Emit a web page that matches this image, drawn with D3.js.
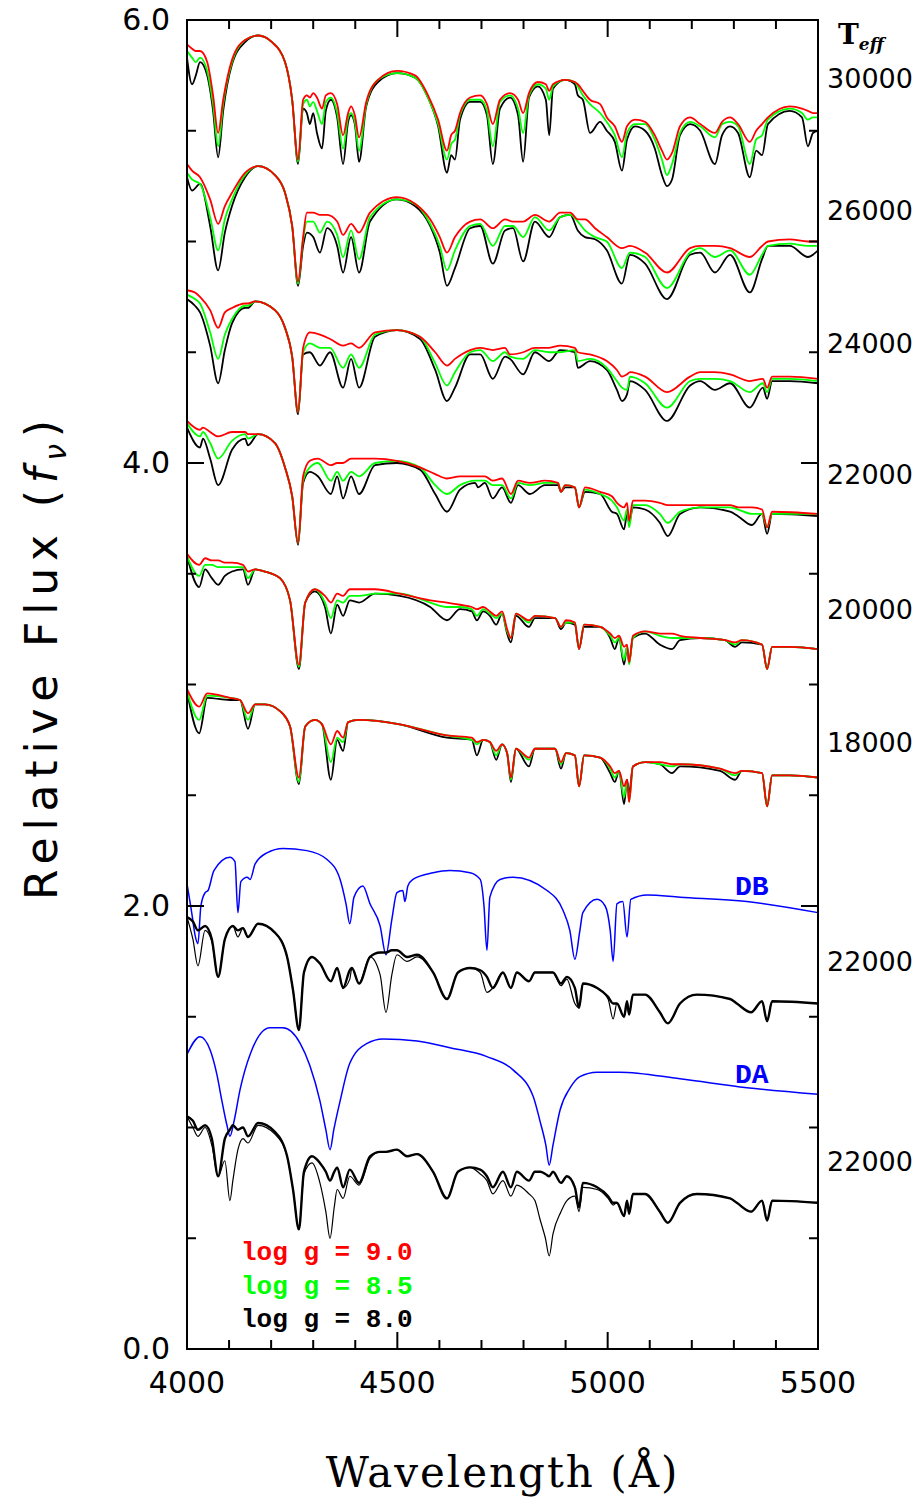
<!DOCTYPE html>
<html>
<head>
<meta charset="utf-8">
<script src="https://cdn.jsdelivr.net/npm/d3@7"></script>
<style>
  body { margin: 0; background: #fff; }
</style>
</head>
<body>
<svg id="chart" width="922" height="1502"></svg>
<script>
// ---- data (wavelength in A, relative flux incl. offsets) ----

// Teff = 30000
const wlT30 = [4000,4012,4021,4031,4048,4062,4074,4086,4107,4138,4169,4202,4233,4250,4264,4276,4285,4292,4300,4309,4321,4330,4342,4357,4371,4383,4390,4399,4409,4426,4454,4499,4542,4573,4597,4618,4628,4637,4649,4673,4697,4713,4727,4744,4768,4787,4799,4813,4834,4853,4861,4870,4899,4922,4929,4941,4958,4982,4998,5017,5034,5046,5065,5089,5112,5129,5141,5153,5172,5196,5220,5255,5272,5291,5310,5338,5353,5367,5381,5433,5462,5476,5488,5500]
const t30g90 = [5.89,5.87,5.86,5.86,5.81,5.66,5.49,5.64,5.82,5.91,5.93,5.90,5.81,5.64,5.37,5.64,5.66,5.65,5.67,5.65,5.60,5.66,5.67,5.62,5.48,5.58,5.61,5.57,5.47,5.63,5.73,5.77,5.75,5.66,5.55,5.41,5.48,5.50,5.58,5.65,5.66,5.62,5.53,5.64,5.67,5.64,5.58,5.67,5.72,5.71,5.68,5.71,5.73,5.72,5.71,5.68,5.64,5.62,5.56,5.52,5.45,5.52,5.55,5.54,5.48,5.41,5.37,5.40,5.52,5.56,5.53,5.49,5.54,5.56,5.53,5.45,5.50,5.53,5.56,5.61,5.60,5.59,5.58,5.58]
const t30g85 = [5.86,5.83,5.81,5.83,5.77,5.62,5.43,5.62,5.81,5.91,5.93,5.90,5.81,5.64,5.36,5.62,5.64,5.61,5.63,5.59,5.53,5.63,5.65,5.58,5.42,5.56,5.58,5.54,5.41,5.62,5.73,5.76,5.74,5.65,5.53,5.37,5.44,5.46,5.57,5.64,5.64,5.59,5.43,5.63,5.66,5.60,5.49,5.66,5.71,5.69,5.64,5.70,5.73,5.72,5.70,5.66,5.62,5.58,5.54,5.48,5.38,5.49,5.53,5.53,5.46,5.37,5.30,5.35,5.49,5.54,5.52,5.47,5.53,5.54,5.52,5.35,5.46,5.48,5.55,5.60,5.58,5.55,5.56,5.56]
const t30g80 = [5.83,5.71,5.75,5.81,5.75,5.59,5.38,5.59,5.80,5.90,5.93,5.90,5.81,5.64,5.35,5.60,5.58,5.53,5.58,5.49,5.42,5.59,5.64,5.56,5.35,5.54,5.57,5.53,5.36,5.61,5.72,5.76,5.74,5.65,5.52,5.31,5.39,5.37,5.55,5.63,5.63,5.57,5.35,5.60,5.65,5.57,5.36,5.65,5.70,5.64,5.48,5.69,5.73,5.71,5.66,5.64,5.49,5.54,5.50,5.45,5.32,5.46,5.52,5.50,5.42,5.30,5.25,5.28,5.48,5.53,5.50,5.35,5.48,5.52,5.49,5.29,5.41,5.39,5.53,5.59,5.56,5.43,5.49,5.50]

// Teff = 26000
const wlT26 = [4000,4012,4031,4055,4074,4090,4107,4138,4169,4209,4233,4250,4264,4276,4285,4300,4316,4333,4357,4371,4390,4409,4435,4499,4542,4578,4601,4618,4637,4673,4697,4727,4756,4775,4799,4827,4861,4887,4911,4929,4946,4970,4998,5034,5053,5089,5141,5196,5220,5255,5291,5338,5367,5381,5433,5476,5500]
const t26g90 = [5.35,5.32,5.29,5.19,5.08,5.16,5.22,5.31,5.34,5.30,5.22,5.07,4.82,5.02,5.13,5.13,5.12,5.12,5.09,5.03,5.08,5.04,5.13,5.20,5.17,5.10,5.02,4.95,5.02,5.09,5.10,5.06,5.10,5.09,5.09,5.12,5.09,5.13,5.13,5.10,5.10,5.06,5.02,4.97,4.98,4.95,4.86,4.97,4.98,4.98,4.97,4.93,4.98,5.00,5.01,5.00,5.00]
const t26g85 = [5.31,5.28,5.26,5.11,4.96,5.10,5.19,5.30,5.34,5.30,5.22,5.07,4.81,5.01,5.09,5.09,5.04,5.09,5.03,4.93,5.05,4.92,5.11,5.19,5.17,5.08,4.98,4.87,4.96,5.07,5.08,4.98,5.07,5.07,5.02,5.11,5.05,5.11,5.12,5.09,5.05,5.02,5.00,4.88,4.95,4.93,4.79,4.95,4.97,4.93,4.96,4.85,4.94,4.98,4.99,4.98,4.98]
const t26g80 = [5.29,5.23,5.26,5.07,4.87,5.04,5.16,5.29,5.34,5.30,5.22,5.07,4.80,4.98,5.04,5.02,4.95,5.06,4.98,4.86,5.02,4.86,5.09,5.19,5.16,5.07,4.95,4.80,4.88,5.06,5.07,4.90,5.05,5.06,4.91,5.09,5.02,5.11,5.12,5.05,5.02,5.01,4.96,4.81,4.94,4.90,4.74,4.94,4.95,4.86,4.94,4.77,4.92,4.98,4.98,4.93,4.96]

// Teff = 24000
const wlT24 = [4000,4019,4031,4055,4074,4090,4107,4138,4145,4162,4209,4233,4250,4264,4276,4292,4316,4340,4371,4390,4409,4447,4499,4554,4590,4618,4637,4673,4697,4727,4756,4768,4799,4827,4861,4887,4922,4929,4958,4998,5022,5034,5046,5053,5089,5141,5196,5220,5255,5291,5338,5369,5379,5391,5433,5500]
const t24g90 = [4.78,4.77,4.75,4.69,4.61,4.68,4.70,4.72,4.72,4.73,4.69,4.61,4.48,4.23,4.52,4.59,4.58,4.56,4.53,4.54,4.52,4.59,4.60,4.57,4.50,4.44,4.47,4.51,4.52,4.51,4.52,4.49,4.50,4.52,4.52,4.53,4.52,4.50,4.49,4.46,4.42,4.39,4.40,4.41,4.39,4.32,4.39,4.41,4.41,4.40,4.37,4.38,4.34,4.39,4.39,4.38]
const t24g85 = [4.76,4.74,4.72,4.59,4.47,4.58,4.65,4.71,4.71,4.73,4.69,4.61,4.48,4.23,4.50,4.54,4.52,4.52,4.43,4.49,4.43,4.58,4.60,4.57,4.45,4.35,4.41,4.50,4.51,4.46,4.50,4.48,4.47,4.51,4.50,4.50,4.51,4.46,4.47,4.43,4.37,4.34,4.33,4.39,4.36,4.25,4.37,4.38,4.38,4.37,4.32,4.36,4.32,4.38,4.38,4.37]
const t24g80 = [4.74,4.71,4.68,4.53,4.36,4.51,4.63,4.70,4.70,4.73,4.69,4.61,4.48,4.22,4.49,4.50,4.44,4.50,4.34,4.47,4.34,4.57,4.60,4.56,4.42,4.28,4.34,4.49,4.49,4.38,4.48,4.47,4.40,4.50,4.46,4.51,4.50,4.43,4.46,4.42,4.33,4.28,4.31,4.37,4.33,4.19,4.35,4.37,4.33,4.36,4.25,4.34,4.29,4.37,4.37,4.36]

// Teff = 22000
const wlT22 = [4000,4031,4038,4055,4074,4107,4138,4145,4169,4209,4233,4250,4264,4276,4292,4311,4342,4357,4371,4390,4409,4447,4499,4554,4590,4618,4649,4685,4692,4708,4727,4749,4770,4787,4815,4851,4882,4889,4899,4922,4932,4946,4982,5010,5022,5039,5046,5051,5060,5089,5124,5143,5172,5220,5291,5310,5343,5367,5379,5391,5500]
const t22g90 = [4.19,4.15,4.16,4.14,4.12,4.14,4.14,4.13,4.13,4.09,3.98,3.85,3.64,3.94,4.01,4.02,3.99,4.00,4.00,4.02,4.02,4.02,4.01,3.98,3.95,3.93,3.94,3.94,3.94,3.94,3.92,3.93,3.86,3.92,3.91,3.92,3.91,3.87,3.90,3.89,3.80,3.89,3.87,3.85,3.82,3.80,3.82,3.74,3.83,3.83,3.82,3.81,3.81,3.81,3.81,3.80,3.80,3.79,3.71,3.78,3.77]
const t22g85 = [4.18,4.12,4.14,4.09,4.02,4.10,4.13,4.11,4.13,4.09,3.98,3.85,3.64,3.92,3.98,4.00,3.92,3.96,3.92,3.96,3.94,4.00,4.01,3.98,3.90,3.86,3.90,3.92,3.92,3.92,3.90,3.90,3.84,3.91,3.90,3.91,3.91,3.87,3.90,3.89,3.80,3.88,3.86,3.83,3.80,3.74,3.79,3.71,3.81,3.81,3.77,3.73,3.78,3.80,3.80,3.79,3.77,3.77,3.71,3.77,3.77]
const t22g80 = [4.16,4.07,4.11,4.02,3.90,4.06,4.11,4.08,4.13,4.09,3.98,3.85,3.63,3.91,3.96,3.94,3.86,3.94,3.84,3.94,3.86,3.99,4.00,3.97,3.86,3.78,3.88,3.91,3.89,3.91,3.84,3.89,3.82,3.90,3.86,3.90,3.90,3.87,3.89,3.89,3.80,3.87,3.86,3.78,3.77,3.70,3.77,3.73,3.80,3.79,3.73,3.67,3.77,3.80,3.78,3.76,3.72,3.77,3.68,3.77,3.76]

// Teff = 20000
const wlT20 = [4000,4029,4043,4059,4074,4090,4107,4133,4145,4162,4185,4221,4245,4266,4281,4304,4328,4342,4357,4371,4387,4409,4447,4506,4578,4618,4649,4677,4689,4704,4720,4735,4749,4761,4770,4782,4813,4827,4875,4889,4901,4922,4932,4944,4982,5006,5017,5027,5039,5046,5051,5060,5089,5124,5153,5172,5220,5279,5303,5319,5367,5379,5391,5433,5500]
const t20g90 = [3.59,3.54,3.57,3.56,3.56,3.55,3.55,3.54,3.51,3.52,3.51,3.48,3.38,3.09,3.37,3.43,3.40,3.37,3.41,3.40,3.43,3.43,3.43,3.41,3.38,3.37,3.36,3.35,3.34,3.35,3.33,3.31,3.33,3.25,3.21,3.32,3.29,3.31,3.30,3.26,3.29,3.28,3.16,3.27,3.26,3.23,3.21,3.22,3.17,3.18,3.10,3.22,3.24,3.23,3.23,3.22,3.21,3.20,3.19,3.20,3.18,3.07,3.17,3.17,3.16]
const t20g85 = [3.58,3.49,3.54,3.54,3.53,3.53,3.53,3.53,3.48,3.52,3.51,3.48,3.38,3.08,3.37,3.43,3.37,3.30,3.38,3.37,3.40,3.40,3.41,3.41,3.37,3.35,3.35,3.34,3.31,3.34,3.32,3.30,3.32,3.24,3.21,3.32,3.28,3.31,3.30,3.26,3.28,3.28,3.16,3.27,3.26,3.22,3.19,3.21,3.11,3.17,3.09,3.21,3.24,3.22,3.21,3.21,3.21,3.20,3.18,3.20,3.18,3.07,3.17,3.17,3.16]
const t20g80 = [3.58,3.44,3.52,3.48,3.45,3.49,3.51,3.52,3.45,3.52,3.51,3.48,3.38,3.07,3.37,3.42,3.35,3.23,3.36,3.31,3.38,3.37,3.41,3.40,3.35,3.29,3.34,3.33,3.29,3.33,3.31,3.27,3.32,3.23,3.19,3.31,3.26,3.30,3.30,3.25,3.28,3.27,3.16,3.26,3.26,3.21,3.16,3.21,3.09,3.17,3.10,3.21,3.23,3.18,3.16,3.20,3.21,3.20,3.17,3.19,3.18,3.07,3.17,3.17,3.16]

// Teff = 18000
const wlT18 = [4000,4029,4048,4102,4126,4145,4162,4185,4221,4245,4266,4281,4304,4321,4342,4357,4371,4383,4409,4506,4618,4677,4689,4704,4720,4735,4749,4761,4770,4782,4813,4827,4875,4889,4901,4922,4932,4944,4982,5006,5017,5027,5039,5046,5051,5060,5089,5124,5153,5172,5267,5303,5319,5367,5379,5391,5433,5500]
const t18g90 = [2.98,2.90,2.96,2.94,2.93,2.87,2.91,2.91,2.88,2.81,2.58,2.81,2.84,2.82,2.73,2.79,2.76,2.83,2.84,2.82,2.77,2.76,2.74,2.75,2.74,2.70,2.73,2.69,2.58,2.71,2.67,2.71,2.71,2.65,2.69,2.68,2.54,2.68,2.67,2.63,2.60,2.61,2.54,2.57,2.47,2.63,2.65,2.65,2.64,2.64,2.62,2.60,2.61,2.60,2.45,2.59,2.59,2.58]
const t18g85 = [2.97,2.84,2.95,2.94,2.93,2.84,2.91,2.91,2.88,2.81,2.56,2.81,2.84,2.82,2.65,2.76,2.74,2.83,2.84,2.82,2.77,2.75,2.73,2.75,2.74,2.68,2.73,2.69,2.57,2.71,2.66,2.71,2.71,2.64,2.69,2.68,2.54,2.68,2.67,2.62,2.58,2.61,2.49,2.56,2.47,2.63,2.65,2.64,2.63,2.64,2.62,2.59,2.61,2.60,2.45,2.59,2.59,2.58]
const t18g80 = [2.97,2.78,2.94,2.93,2.93,2.80,2.91,2.91,2.88,2.81,2.55,2.81,2.84,2.82,2.57,2.75,2.70,2.83,2.84,2.82,2.76,2.75,2.68,2.75,2.74,2.66,2.73,2.69,2.56,2.71,2.63,2.71,2.71,2.62,2.69,2.68,2.54,2.68,2.67,2.60,2.56,2.61,2.46,2.57,2.51,2.63,2.65,2.64,2.60,2.63,2.61,2.57,2.61,2.60,2.45,2.59,2.59,2.58]

// DB comparison (blue) and 22000 K models below it
const wlDB = [4000,4012,4019,4026,4033,4043,4050,4064,4102,4114,4121,4128,4143,4150,4162,4190,4228,4285,4333,4364,4378,4387,4397,4418,4435,4459,4473,4487,4499,4513,4518,4525,4537,4585,4625,4673,4697,4706,4713,4720,4744,4775,4856,4894,4910,4922,4934,4941,4975,4994,5006,5013,5022,5036,5046,5055,5094,5172,5331,5500]
const fluxDB = [2.10,1.96,1.87,1.83,2.00,2.06,2.07,2.16,2.22,2.20,1.97,2.11,2.13,2.12,2.19,2.24,2.26,2.25,2.21,2.12,2.01,1.92,2.04,2.09,2.01,1.91,1.78,1.94,2.06,2.07,2.02,2.09,2.12,2.15,2.16,2.15,2.12,2.00,1.80,2.04,2.12,2.13,2.07,1.98,1.89,1.76,1.89,1.97,2.03,2.00,1.89,1.75,2.01,2.02,1.86,2.03,2.05,2.04,2.02,1.97]
const wlDBmod = [4000,4014,4026,4043,4059,4074,4090,4109,4121,4133,4145,4169,4209,4238,4252,4266,4278,4297,4316,4342,4357,4371,4387,4392,4409,4435,4459,4473,4487,4499,4523,4547,4585,4618,4644,4673,4697,4713,4727,4751,4770,4784,4813,4827,4870,4889,4903,4922,4932,4941,4975,5001,5013,5022,5039,5046,5051,5060,5089,5124,5143,5172,5212,5291,5307,5341,5367,5379,5391,5500]
const dbModA = [1.95,1.93,1.89,1.91,1.85,1.68,1.85,1.91,1.89,1.90,1.86,1.92,1.88,1.77,1.62,1.44,1.70,1.77,1.74,1.66,1.72,1.63,1.71,1.72,1.65,1.77,1.79,1.79,1.80,1.80,1.77,1.78,1.70,1.58,1.70,1.72,1.71,1.68,1.63,1.70,1.63,1.70,1.66,1.70,1.70,1.65,1.68,1.63,1.54,1.65,1.63,1.59,1.56,1.56,1.50,1.57,1.51,1.60,1.60,1.52,1.47,1.56,1.60,1.58,1.56,1.52,1.57,1.48,1.57,1.56]
const dbModB = [1.95,1.85,1.73,1.89,1.84,1.68,1.85,1.91,1.86,1.90,1.86,1.92,1.88,1.77,1.62,1.44,1.70,1.77,1.74,1.66,1.72,1.63,1.67,1.72,1.65,1.77,1.69,1.52,1.69,1.78,1.75,1.77,1.70,1.58,1.70,1.72,1.70,1.61,1.63,1.70,1.63,1.70,1.66,1.70,1.70,1.64,1.67,1.56,1.54,1.65,1.63,1.58,1.49,1.56,1.50,1.55,1.51,1.60,1.60,1.52,1.47,1.56,1.60,1.58,1.56,1.52,1.57,1.48,1.57,1.56]

// DA comparison (blue) and 22000 K models below it
const wlDA = [4000,4031,4055,4071,4083,4095,4102,4112,4126,4150,4197,4228,4269,4292,4316,4330,4340,4349,4364,4387,4428,4466,4547,4625,4713,4775,4823,4839,4853,4861,4870,4887,4911,4934,4975,5029,5172,5331,5500]
const fluxDA = [1.33,1.41,1.35,1.24,1.12,1.01,0.96,1.03,1.17,1.33,1.45,1.45,1.38,1.28,1.12,0.99,0.90,0.99,1.12,1.29,1.38,1.40,1.39,1.36,1.32,1.26,1.14,1.03,0.92,0.83,0.92,1.08,1.18,1.23,1.25,1.25,1.22,1.18,1.15]
const wlDAmod = [4000,4014,4026,4043,4059,4074,4090,4102,4109,4121,4133,4145,4169,4209,4238,4252,4266,4278,4297,4316,4330,4340,4350,4357,4371,4387,4409,4435,4459,4473,4499,4523,4547,4585,4618,4644,4673,4697,4713,4727,4751,4770,4784,4813,4827,4840,4852,4861,4870,4889,4903,4922,4932,4941,4975,5001,5013,5022,5039,5046,5051,5060,5089,5124,5143,5172,5212,5291,5307,5341,5367,5379,5391,5500]
const daModA = [1.05,1.03,0.99,1.01,0.95,0.78,0.95,0.99,1.01,0.99,1.00,0.96,1.02,0.98,0.87,0.72,0.54,0.80,0.87,0.84,0.80,0.76,0.80,0.82,0.73,0.81,0.75,0.87,0.89,0.89,0.90,0.87,0.88,0.80,0.68,0.80,0.82,0.81,0.78,0.73,0.80,0.73,0.80,0.76,0.80,0.80,0.79,0.78,0.80,0.75,0.78,0.73,0.64,0.75,0.73,0.69,0.66,0.66,0.60,0.67,0.61,0.70,0.70,0.62,0.57,0.66,0.70,0.68,0.66,0.62,0.67,0.58,0.67,0.66]
const daModB = [1.05,1.00,0.96,1.00,0.92,0.78,0.85,0.67,0.76,0.90,0.95,0.93,1.01,0.97,0.87,0.72,0.54,0.79,0.84,0.75,0.62,0.50,0.64,0.72,0.68,0.78,0.74,0.86,0.89,0.89,0.90,0.87,0.88,0.80,0.68,0.80,0.82,0.79,0.76,0.70,0.76,0.69,0.74,0.70,0.67,0.58,0.50,0.42,0.52,0.62,0.67,0.69,0.62,0.73,0.72,0.68,0.65,0.66,0.60,0.67,0.61,0.70,0.70,0.62,0.57,0.66,0.70,0.68,0.66,0.62,0.67,0.58,0.67,0.66]

const loggLabels = ['9.0', '8.5', '8.0']
const loggColors = ['#ff0000', '#00ff00', '#000000']
const teffLabels = ['30000', '26000', '24000', '22000', '20000', '18000', '22000', '22000']
const xTicks = [4000, 4500, 5000, 5500]
const yTicks = [0, 2, 4, 6]

// ---- layout ----
const W = 922
const H = 1502
const margin = { top: 20, right: 104, bottom: 153, left: 187 }
const teffLabelY = [5.74, 5.14, 4.54, 3.95, 3.34, 2.74, 1.75, 0.85]  // flux level of each Teff label

const svg = d3.select('#chart')
const x = d3.scaleLinear().domain([4000, 5500]).range([margin.left, W - margin.right])
const y = d3.scaleLinear().domain([0, 6]).range([H - margin.bottom, margin.top])

svg.append('rect').attr('width', W).attr('height', H).attr('fill', '#fff')

svg.append('clipPath').attr('id', 'plot-clip')
  .append('rect')
  .attr('x', margin.left).attr('y', margin.top)
  .attr('width', x(5500) - x(4000)).attr('height', y(0) - y(6))

const plot = svg.append('g').attr('clip-path', 'url(#plot-clip)')

const line = d3.line()
  .defined(d => d[1] != null && !isNaN(d[1]))
  .x(d => x(d[0]))
  .y(d => y(d[1]))
  .curve(d3.curveMonotoneX)

const zip = (wl, fl) => {
  if (wl.length !== fl.length) console.warn('length mismatch', wl.length, fl.length)
  return wl.map((w, i) => [w, fl[i]])
}

const drawSpectrum = (wl, fl, color, width) => {
  plot.append('path')
    .datum(zip(wl, fl))
    .attr('fill', 'none')
    .attr('stroke', color)
    .attr('stroke-width', width)
    .attr('stroke-linejoin', 'round')
    .attr('d', line)
}

// model grid: black (8.0) under green (8.5) under red (9.0)
const rows = [
  [wlT30, t30g90, t30g85, t30g80],
  [wlT26, t26g90, t26g85, t26g80],
  [wlT24, t24g90, t24g85, t24g80],
  [wlT22, t22g90, t22g85, t22g80],
  [wlT20, t20g90, t20g85, t20g80],
  [wlT18, t18g90, t18g85, t18g80]
]
for (const [wl, g90, g85, g80] of rows) {
  drawSpectrum(wl, g80, loggColors[2], 1.8)
  drawSpectrum(wl, g85, loggColors[1], 1.8)
  drawSpectrum(wl, g90, loggColors[0], 1.8)
}

// DB / DA comparison panels
drawSpectrum(wlDB, fluxDB, '#0000ff', 1.5)
drawSpectrum(wlDBmod, dbModB, '#000', 1.2)
drawSpectrum(wlDBmod, dbModA, '#000', 2.4)
drawSpectrum(wlDA, fluxDA, '#0000ff', 1.5)
drawSpectrum(wlDAmod, daModB, '#000', 1.2)
drawSpectrum(wlDAmod, daModA, '#000', 2.4)

// ---- frame and ticks ----
const axes = svg.append('g').attr('stroke', '#000').attr('stroke-width', 2)
axes.append('rect')
  .attr('x', x(4000)).attr('y', y(6))
  .attr('width', x(5500) - x(4000)).attr('height', y(0) - y(6))
  .attr('fill', 'none')

const majorLen = 17
const minorLen = 9
d3.range(4000, 5501, 100).forEach(v => {
  const len = v % 500 === 0 ? majorLen : minorLen
  axes.append('line').attr('x1', x(v)).attr('x2', x(v)).attr('y1', y(0)).attr('y2', y(0) - len)
  axes.append('line').attr('x1', x(v)).attr('x2', x(v)).attr('y1', y(6)).attr('y2', y(6) + len)
})
d3.range(0, 6.01, 0.5).forEach(v => {
  const len = Math.abs(v % 2) < 1e-6 ? majorLen : minorLen
  axes.append('line').attr('x1', x(4000)).attr('x2', x(4000) + len).attr('y1', y(v)).attr('y2', y(v))
  axes.append('line').attr('x1', x(5500)).attr('x2', x(5500) - len).attr('y1', y(v)).attr('y2', y(v))
})

// ---- text ----
const labelFont = '"DejaVu Sans", sans-serif'

svg.append('g').selectAll('text').data(yTicks).join('text')
  .attr('x', x(4000) - 17)
  .attr('y', d => y(d) + 10)
  .attr('text-anchor', 'end')
  .attr('font-family', labelFont)
  .attr('font-size', 30)
  .text(d => d3.format('.1f')(d))

svg.append('g').selectAll('text').data(xTicks).join('text')
  .attr('x', d => x(d))
  .attr('y', y(0) + 44)
  .attr('text-anchor', 'middle')
  .attr('font-family', labelFont)
  .attr('font-size', 30)
  .text(d => d)

svg.append('g').selectAll('text').data(teffLabels).join('text')
  .attr('x', 870)
  .attr('y', (d, i) => y(teffLabelY[i]) + 10)
  .attr('text-anchor', 'middle')
  .attr('font-family', labelFont)
  .attr('font-size', 27)
  .text(d => d)

const teff = svg.append('text')
  .attr('x', 838).attr('y', 44)
  .attr('font-family', '"DejaVu Serif", serif')
  .attr('font-weight', 'bold')
  .attr('font-size', 28)
teff.append('tspan').text('T')
teff.append('tspan').attr('dy', 6).attr('font-size', 17).attr('font-style', 'italic').text('eff')

// axis titles
const yTitle = svg.append('text')
  .attr('transform', 'translate(57, 660) rotate(-90)')
  .attr('text-anchor', 'middle')
  .attr('font-family', labelFont)
  .attr('font-size', 44)
  .attr('textLength', 480)
  .attr('lengthAdjust', 'spacing')
yTitle.append('tspan').text('Relative Flux (')
yTitle.append('tspan').attr('font-style', 'italic').text('f')
yTitle.append('tspan').attr('font-style', 'italic').attr('font-size', 30).attr('dy', 9).text('ν')
yTitle.append('tspan').attr('dy', -9).text(')')

svg.append('text')
  .attr('x', (x(4000) + x(5500)) / 2)
  .attr('y', 1487)
  .attr('text-anchor', 'middle')
  .attr('font-family', '"DejaVu Serif", serif')
  .attr('font-size', 42)
  .attr('letter-spacing', 2)
  .text('Wavelength (Å)')

// legend
const monoFont = '"Liberation Mono", "DejaVu Sans Mono", monospace'
svg.append('g').selectAll('text').data(loggLabels).join('text')
  .attr('x', 241)
  .attr('y', (d, i) => 1260 + i * 33.5)
  .attr('font-family', monoFont)
  .attr('font-weight', 'bold')
  .attr('font-size', 26)
  .attr('fill', (d, i) => loggColors[i])
  .attr('xml:space', 'preserve')
  .text(d => `log g = ${d}`)

// DB / DA tags
svg.append('text').attr('x', 735).attr('y', y(2.05))
  .attr('font-family', monoFont).attr('font-weight', 'bold').attr('font-size', 28)
  .attr('fill', '#0000ff').text('DB')
svg.append('text').attr('x', 735).attr('y', y(1.2))
  .attr('font-family', monoFont).attr('font-weight', 'bold').attr('font-size', 28)
  .attr('fill', '#0000ff').text('DA')
</script>
</body>
</html>
